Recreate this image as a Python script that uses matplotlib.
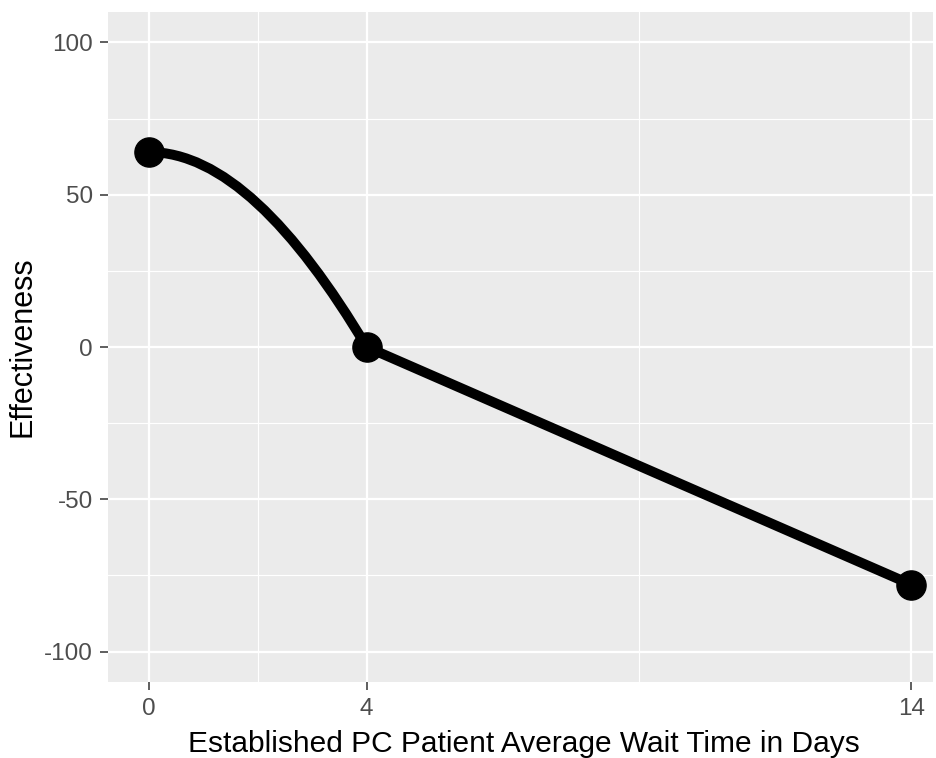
import matplotlib
matplotlib.use("Agg")
import matplotlib.pyplot as plt
from matplotlib.path import Path
from matplotlib.patches import PathPatch

# Data
wait_days = [0, 4, 14]
effectiveness = [64, 0, -78]
# slopes at the ends of the smooth first segment (0 -> 4)
curve_slopes = [0, -30]

x_major = [0, 4, 14]
x_minor = [2, 9]
y_major = [-100, -50, 0, 50, 100]
y_minor = [-75, -25, 25, 75]

plt.rcParams['font.family'] = ['Liberation Sans', 'DejaVu Sans']
plt.rcParams['axes.unicode_minus'] = False

fig = plt.figure(figsize=(9.36, 7.58), dpi=100)
ax = fig.add_axes([108 / 936, 1 - 682 / 758, 825 / 936, 670 / 758])
ax.set_facecolor('#EBEBEB')

ax.set_xlim(-0.75, 14.4)
ax.set_ylim(-110, 110)

# grid
for v in x_minor:
    ax.axvline(v, color='white', lw=0.8, zorder=0)
for v in y_minor:
    ax.axhline(v, color='white', lw=0.8, zorder=0)
for v in x_major:
    ax.axvline(v, color='white', lw=1.6, zorder=0)
for v in y_major:
    ax.axhline(v, color='white', lw=1.6, zorder=0)

# smooth curve between first two points, straight line after that
x0, x1, x2 = wait_days
y0, y1, y2 = effectiveness
h = (x1 - x0) / 3
verts = [
    (x0, y0),
    (x0 + h, y0 + h * curve_slopes[0]),
    (x1 - h, y1 - h * curve_slopes[1]),
    (x1, y1),
    (x2, y2),
]
codes = [Path.MOVETO, Path.CURVE4, Path.CURVE4, Path.CURVE4, Path.LINETO]
ax.add_patch(PathPatch(Path(verts, codes), facecolor='none', edgecolor='black',
                       lw=7.2, capstyle='round', joinstyle='round', zorder=2))

ax.plot(wait_days, effectiveness, 'o', color='black', markersize=21, zorder=3)

ax.set_xticks(x_major)
ax.set_yticks(y_major)
ax.tick_params(axis='both', colors='#333333', length=5.8, width=1.1,
               labelcolor='#4D4D4D', labelsize=17.5)
ax.tick_params(axis='x', pad=6)
ax.tick_params(axis='y', pad=5)
for s in ax.spines.values():
    s.set_visible(False)

ax.set_xlabel('Established PC Patient Average Wait Time in Days', fontsize=21.5,
              color='black')
ax.xaxis.set_label_coords(0.504, -0.072)
ax.set_ylabel('Effectiveness', fontsize=22, color='black')
ax.yaxis.set_label_coords(-0.085, 0.5)

fig.savefig('out.png', dpi=100, facecolor='white')
